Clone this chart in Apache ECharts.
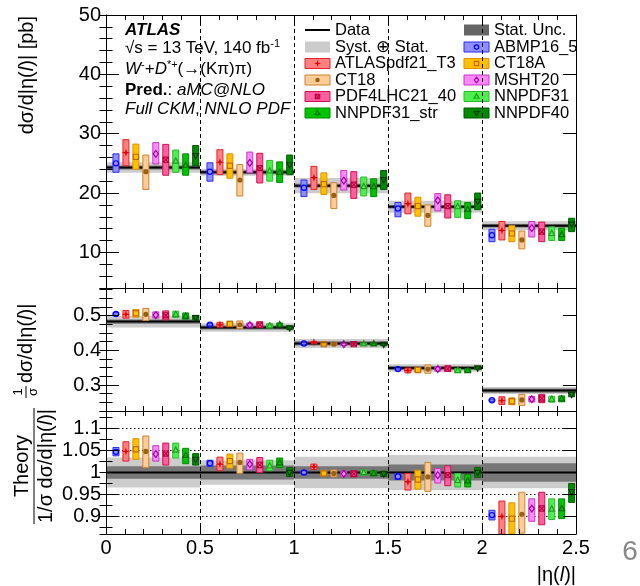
<!DOCTYPE html>
<html>
<head>
<meta charset="utf-8">
<script src="https://cdn.jsdelivr.net/npm/echarts@6/dist/echarts.min.js"></script>
<style>
html, body { margin: 0; padding: 0; background: #fff; }
#chart { width: 640px; height: 586px; }
</style>
</head>
<body>
<div id="chart"></div>
<script>
var FONT = '"Liberation Sans", Arial, Helvetica, sans-serif';

// bins of |eta(l)| and positions of the 9 predictions inside a bin
var EDGES = [0, 0.5, 1, 1.5, 2, 2.5];
var OFFSETS = [0.053, 0.106, 0.159, 0.212, 0.265, 0.318, 0.371, 0.424, 0.477];

var PDF_NAMES = ['ABMP16_5', 'ATLASpdf21_T3', 'CT18A', 'CT18', 'MSHT20', 'PDF4LHC21_40', 'NNPDF31', 'NNPDF31_str', 'NNPDF40'];
var PDF_FILL = ['#8f8fff', '#ff8080', '#ffc000', '#ffcc99', '#ff88ff', '#ff5fa0', '#4cf04c', '#00c400', '#008a00'];
var PDF_LINE = ['#2a2aff', '#e8202a', '#e09000', '#c8842c', '#c832c8', '#d2104a', '#2fb82f', '#008c00', '#005a00'];
var PDF_MARKC = ['#0000ff', '#e00000', '#c86a00', '#9a6010', '#a000a0', '#c00040', '#1e9e1e', '#006e00', '#003c00'];
var PDF_MARK = ['circle', 'star', 'square', 'dot', 'diamond', 'xsquare', 'up', 'up', 'down'];

// measured data: absolute, normalised, ratio panel uncertainties
var DATA_ABS = [24.3, 23.5, 21.25, 17.7, 14.5];
var DATA_ABS_STAT = [0.35, 0.35, 0.3, 0.3, 0.3];
var DATA_ABS_TOT = [0.9, 0.6, 1.3, 1.0, 0.75];
var DATA_NORM = [0.483, 0.466, 0.420, 0.349, 0.284];
var DATA_NORM_STAT = [0.006, 0.006, 0.006, 0.006, 0.006];
var DATA_NORM_TOT = [0.017, 0.012, 0.013, 0.011, 0.010];
var RATIO_STAT = [0.014, 0.016, 0.014, 0.018, 0.021];
var RATIO_TOT = [0.034, 0.028, 0.036, 0.040, 0.036];

// predictions, one row per PDF (same order as PDF_NAMES)
var ABS_C = [
  [25.0, 23.6, 20.9, 17.4, 12.9],
  [26.8, 25.2, 22.6, 18.2, 13.7],
  [26.1, 24.6, 21.5, 17.8, 13.2],
  [23.6, 22.2, 19.6, 16.25, 12.1],
  [26.6, 25.1, 22.1, 18.75, 14.1],
  [25.6, 24.2, 21.4, 17.8, 13.5],
  [25.4, 23.75, 21.1, 17.7, 13.2],
  [24.7, 23.5, 21.1, 17.25, 13.0],
  [26.3, 24.75, 22.25, 18.6, 14.75]
];
var ABS_LO = [
  [23.5, 22.0, 19.4, 16.0, 11.8],
  [24.6, 23.1, 20.6, 16.5, 12.1],
  [24.0, 22.5, 19.75, 16.1, 11.8],
  [20.6, 19.5, 17.4, 14.4, 10.6],
  [24.9, 23.4, 20.5, 17.0, 12.6],
  [23.0, 21.7, 19.1, 15.8, 11.8],
  [23.5, 22.0, 19.5, 15.9, 12.0],
  [23.0, 21.8, 19.4, 15.7, 12.0],
  [24.6, 23.1, 20.6, 17.2, 13.5]
];
var ABS_HI = [
  [26.6, 25.1, 22.2, 18.4, 13.9],
  [29.0, 27.3, 24.5, 20.0, 15.2],
  [28.25, 26.6, 23.4, 19.3, 14.5],
  [26.4, 24.8, 21.75, 18.0, 13.6],
  [28.5, 26.9, 23.8, 19.9, 15.2],
  [28.2, 26.7, 23.6, 19.7, 15.1],
  [27.25, 25.5, 22.7, 18.7, 14.3],
  [26.6, 25.25, 22.4, 18.4, 14.1],
  [28.0, 26.4, 23.8, 20.0, 15.75]
];
var NORM_C = [
  [0.505, 0.474, 0.420, 0.346, 0.256],
  [0.504, 0.474, 0.4235, 0.342, 0.255],
  [0.507, 0.476, 0.418, 0.343, 0.253],
  [0.504, 0.474, 0.418, 0.346, 0.257],
  [0.502, 0.473, 0.418, 0.346, 0.259],
  [0.501, 0.474, 0.418, 0.347, 0.261],
  [0.504, 0.471, 0.419, 0.342, 0.259],
  [0.499, 0.474, 0.419, 0.342, 0.260],
  [0.494, 0.465, 0.417, 0.349, 0.273]
];
var NORM_LO = [
  [0.501, 0.471, 0.418, 0.343, 0.253],
  [0.493, 0.467, 0.421, 0.335, 0.244],
  [0.496, 0.469, 0.415, 0.336, 0.243],
  [0.486, 0.463, 0.414, 0.334, 0.241],
  [0.493, 0.467, 0.416, 0.340, 0.251],
  [0.488, 0.466, 0.415, 0.339, 0.249],
  [0.495, 0.465, 0.417, 0.336, 0.2505],
  [0.490, 0.469, 0.417, 0.337, 0.2515],
  [0.487, 0.460, 0.415, 0.345, 0.266]
];
var NORM_HI = [
  [0.509, 0.477, 0.422, 0.349, 0.259],
  [0.515, 0.481, 0.426, 0.349, 0.266],
  [0.518, 0.484, 0.421, 0.351, 0.263],
  [0.521, 0.485, 0.422, 0.358, 0.273],
  [0.511, 0.479, 0.420, 0.352, 0.267],
  [0.514, 0.482, 0.421, 0.355, 0.273],
  [0.513, 0.477, 0.421, 0.348, 0.2675],
  [0.508, 0.479, 0.421, 0.347, 0.2685],
  [0.501, 0.470, 0.419, 0.353, 0.280]
];
var RATIO_C = [
  [1.047, 1.021, 1.000, 0.991, 0.903],
  [1.048, 1.019, 1.013, 0.979, 0.900],
  [1.053, 1.026, 0.998, 0.984, 0.895],
  [1.048, 1.023, 0.998, 0.990, 0.905],
  [1.042, 1.019, 0.997, 0.994, 0.918],
  [1.043, 1.017, 0.997, 0.994, 0.918],
  [1.051, 1.015, 1.000, 0.982, 0.917],
  [1.039, 1.022, 0.998, 0.981, 0.918],
  [1.030, 1.000, 0.997, 1.000, 0.956]
];
var RATIO_LO = [
  [1.038, 1.014, 0.996, 0.984, 0.892],
  [1.026, 1.004, 1.007, 0.960, 0.850],
  [1.030, 1.010, 0.992, 0.962, 0.850],
  [1.011, 0.998, 0.990, 0.957, 0.862],
  [1.026, 1.006, 0.991, 0.976, 0.889],
  [1.017, 1.000, 0.990, 0.970, 0.881],
  [1.033, 1.004, 0.994, 0.967, 0.893],
  [1.020, 1.011, 0.992, 0.967, 0.895],
  [1.017, 0.991, 0.991, 0.989, 0.932]
];
var RATIO_HI = [
  [1.057, 1.028, 1.004, 0.998, 0.914],
  [1.070, 1.035, 1.019, 0.998, 0.935],
  [1.077, 1.042, 1.005, 1.005, 0.931],
  [1.083, 1.044, 1.006, 1.023, 0.955],
  [1.061, 1.030, 1.003, 1.009, 0.940],
  [1.067, 1.034, 1.004, 1.015, 0.955],
  [1.067, 1.028, 1.006, 0.998, 0.940],
  [1.055, 1.033, 1.004, 0.995, 0.940],
  [1.043, 1.011, 1.003, 1.011, 0.975]
];

var Y_RANGE = [[4, 50], [0.225, 0.58], [0.86, 1.14]];
var Y_MAJOR = [10, 0.1, 0.05];
var Y_MINOR = [2, 0.025, 0.025];
var GRIDS = [
  { left: 106, right: 64, top: 15, height: 273 },
  { left: 106, right: 64, top: 288, height: 123 },
  { left: 106, right: 64, top: 411, height: 123 }
];
var LIGHT = '#cccccc', DARK = '#777777';

// ---- marker shapes (used in plot and legend)
function marker(kind, cx, cy, r, color) {
  var open = { fill: 'none', stroke: color, lineWidth: 1.2 };
  if (kind === 'circle') return { type: 'circle', shape: { cx: cx, cy: cy, r: r }, style: open };
  if (kind === 'dot') return { type: 'circle', shape: { cx: cx, cy: cy, r: r }, style: { fill: color } };
  if (kind === 'square') return { type: 'rect', shape: { x: cx - r, y: cy - r, width: 2 * r, height: 2 * r }, style: open };
  if (kind === 'xsquare') return { type: 'group', children: [
    { type: 'rect', shape: { x: cx - r, y: cy - r, width: 2 * r, height: 2 * r }, style: open },
    { type: 'line', shape: { x1: cx - r, y1: cy - r, x2: cx + r, y2: cy + r }, style: open },
    { type: 'line', shape: { x1: cx + r, y1: cy - r, x2: cx - r, y2: cy + r }, style: open }
  ] };
  if (kind === 'diamond') return { type: 'polygon', shape: { points: [[cx, cy - 1.3 * r], [cx + r, cy], [cx, cy + 1.3 * r], [cx - r, cy]] }, style: open };
  if (kind === 'up') return { type: 'polygon', shape: { points: [[cx, cy - 1.2 * r], [cx + 1.1 * r, cy + 0.8 * r], [cx - 1.1 * r, cy + 0.8 * r]] }, style: open };
  if (kind === 'down') return { type: 'polygon', shape: { points: [[cx, cy + 1.2 * r], [cx + 1.1 * r, cy - 0.8 * r], [cx - 1.1 * r, cy - 0.8 * r]] }, style: open };
  var pts = [];
  for (var i = 0; i < 8; i++) {
    var a = i * Math.PI / 4 - Math.PI / 2;
    var rr = i % 2 === 0 ? 1.6 * r : 0.5 * r;
    pts.push([cx + rr * Math.cos(a), cy + rr * Math.sin(a)]);
  }
  return { type: 'polygon', shape: { points: pts }, style: { fill: color } };
}

function clampY(y, cs) { return Math.min(Math.max(y, cs.y), cs.y + cs.height); }

function bandRender(color) {
  return function (params, api) {
    var cs = params.coordSys;
    var p1 = api.coord([api.value(0), api.value(3)]);
    var p2 = api.coord([api.value(1), api.value(2)]);
    var y1 = clampY(p1[1], cs), y2 = clampY(p2[1], cs);
    return { type: 'rect', shape: { x: p1[0], y: y1, width: p2[0] - p1[0], height: y2 - y1 }, style: { fill: color } };
  };
}
function lineRender(params, api) {
  var a = api.coord([api.value(0), api.value(2)]);
  var b = api.coord([api.value(1), api.value(2)]);
  return { type: 'line', shape: { x1: a[0], y1: a[1], x2: b[0], y2: b[1] }, style: { stroke: '#000', lineWidth: 2 } };
}
function theoryRender(k) {
  return function (params, api) {
    var cs = params.coordSys;
    var pc = api.coord([api.value(0), api.value(1)]);
    var yl = clampY(api.coord([api.value(0), api.value(2)])[1], cs);
    var yh = clampY(api.coord([api.value(0), api.value(3)])[1], cs);
    var w = 6;
    return { type: 'group', children: [
      { type: 'rect', shape: { x: pc[0] - w / 2, y: yh, width: w, height: Math.max(yl - yh, 2) },
        style: { fill: PDF_FILL[k], stroke: PDF_LINE[k], lineWidth: 1 } },
      marker(PDF_MARK[k], pc[0], pc[1], 2.6, PDF_MARKC[k])
    ] };
  };
}

function majorLabel(step) {
  return function (v) {
    var n = Math.round(v / step);
    if (Math.abs(v - n * step) > step * 1e-3) return '';
    return String(+v.toFixed(3));
  };
}

var xAxis = [], yAxis = [], series = [], grid = [];

GRIDS.forEach(function (gd, g) {
  grid.push({ left: gd.left, right: gd.right, top: gd.top, height: gd.height, show: false, outerBoundsMode: 'none', containLabel: false });
  // x axes: bottom (labels on last panel, dashed bin edges) and top (ticks only)
  xAxis.push({
    type: 'value', gridIndex: g, min: 0, max: 2.5, interval: 0.5, position: 'bottom', z: 5,
    axisLine: { show: true, onZero: false, lineStyle: { color: '#000', width: 1 } },
    axisTick: { show: true, inside: true, length: 10, lineStyle: { color: '#000' } },
    minorTick: { show: true, splitNumber: 5, length: 5, lineStyle: { color: '#000' } },
    axisLabel: { show: g === 2, margin: 4, color: '#000', fontSize: 20, fontFamily: FONT },
    splitLine: { show: true, lineStyle: { color: '#000', width: 1, type: [4, 3] } }
  });
  xAxis.push({
    type: 'value', gridIndex: g, min: 0, max: 2.5, interval: 0.5, position: 'top', z: 5,
    axisLine: { show: true, onZero: false, lineStyle: { color: '#000', width: 1 } },
    axisTick: { show: true, inside: true, length: 10, lineStyle: { color: '#000' } },
    minorTick: { show: true, splitNumber: 5, length: 5, lineStyle: { color: '#000' } },
    axisLabel: { show: false }, splitLine: { show: false }
  });
  var r = Y_RANGE[g];
  var mainIndex = yAxis.length;
  ['left', 'right'].forEach(function (side) {
    yAxis.push({
      type: 'value', gridIndex: g, min: r[0], max: r[1], minInterval: Y_MAJOR[g], maxInterval: Y_MAJOR[g],
      position: side, z: 5,
      axisLine: { show: true, onZero: false, lineStyle: { color: '#000', width: 1 } },
      axisTick: { show: true, inside: true, length: 13, lineStyle: { color: '#000' } },
      axisLabel: side === 'left' ? { show: true, margin: 5, color: '#000', fontSize: 20, fontFamily: FONT, formatter: majorLabel(Y_MAJOR[g]) } : { show: false },
      splitLine: { show: false }
    });
    yAxis.push({
      type: 'value', gridIndex: g, min: r[0], max: r[1], minInterval: Y_MINOR[g], maxInterval: Y_MINOR[g],
      position: side, z: 5,
      axisLine: { show: false },
      axisTick: { show: true, inside: true, length: 6.5, lineStyle: { color: '#000' } },
      axisLabel: { show: false }, splitLine: { show: false }
    });
  });
  if (g === 2) {
    // dotted reference lines of the ratio panel, below the marks
    yAxis.push({
      type: 'value', gridIndex: g, min: r[0], max: r[1], minInterval: 0.05, maxInterval: 0.05, z: 1,
      axisLine: { show: false }, axisTick: { show: false }, axisLabel: { show: false },
      splitLine: { show: true, lineStyle: { color: '#000', width: 1, type: [1.5, 2.5] } }
    });
  }

  var dv, ds, dt, tc, tl, th;
  if (g === 0) { dv = DATA_ABS; ds = DATA_ABS_STAT; dt = DATA_ABS_TOT; tc = ABS_C; tl = ABS_LO; th = ABS_HI; }
  else if (g === 1) { dv = DATA_NORM; ds = DATA_NORM_STAT; dt = DATA_NORM_TOT; tc = NORM_C; tl = NORM_LO; th = NORM_HI; }
  else { dv = DATA_ABS.map(function () { return 1; }); ds = RATIO_STAT; dt = RATIO_TOT; tc = RATIO_C; tl = RATIO_LO; th = RATIO_HI; }

  var base = { type: 'custom', xAxisIndex: 2 * g, yAxisIndex: mainIndex, silent: true, animation: false };
  series.push(Object.assign({}, base, { name: 'Syst. ⊕ Stat.', renderItem: bandRender(LIGHT),
    data: dv.map(function (v, i) { return [EDGES[i], EDGES[i + 1], v - dt[i], v + dt[i]]; }) }));
  series.push(Object.assign({}, base, { name: 'Stat. Unc.', renderItem: bandRender(DARK),
    data: dv.map(function (v, i) { return [EDGES[i], EDGES[i + 1], v - ds[i], v + ds[i]]; }) }));
  series.push(Object.assign({}, base, { name: 'Data', renderItem: lineRender,
    data: dv.map(function (v, i) { return [EDGES[i], EDGES[i + 1], v]; }) }));
  PDF_NAMES.forEach(function (name, k) {
    series.push(Object.assign({}, base, { name: name, renderItem: theoryRender(k),
      data: tc[k].map(function (c, i) { return [EDGES[i] + OFFSETS[k], c, tl[k][i], th[k][i]]; }) }));
  });
});

// ---- text and legend
var graphics = [];
var RICH = {
  b: { fontSize: 17, fontWeight: 'bold', fontStyle: 'italic', fontFamily: FONT, lineHeight: 20 },
  bold: { fontSize: 17, fontWeight: 'bold', fontFamily: FONT, lineHeight: 20 },
  it: { fontSize: 17, fontStyle: 'italic', fontFamily: FONT, lineHeight: 20 },
  sup: { fontSize: 11, fontFamily: FONT, verticalAlign: 'top', lineHeight: 20 },
  i: { fontStyle: 'italic', fontFamily: FONT }
};
var INFO_LINES = [
  '{b|ATLAS}',
  '√s = 13 TeV, 140 fb{sup|-1}',
  '{it|W}{sup|-}+{it|D}{sup|*+}(→(Kπ)π)',
  '{bold|Pred.}: {it|aMC@NLO}',
  '{it|Full CKM}, {it|NNLO PDF}'
];
var INFO_Y = [30, 48, 69, 90, 109];
INFO_LINES.forEach(function (t, i) {
  graphics.push({ type: 'text', x: 125, y: INFO_Y[i], style: { text: t, rich: RICH, fontSize: 17, fontFamily: FONT, fill: '#000', verticalAlign: 'middle', lineHeight: 20 } });
});

var LEG_Y = [30, 47, 63.5, 80, 96.5, 113];
var LEG_X = [305, 464];
var LEG_COLS = [['Data', 'Syst', 1, 3, 5, 7], ['Stat', 0, 2, 4, 6, 8]];
LEG_COLS.forEach(function (col, c) {
  col.forEach(function (e, r) {
    var x = LEG_X[c], y = LEG_Y[r], label;
    if (e === 'Data') {
      graphics.push({ type: 'line', shape: { x1: x, y1: y, x2: x + 25, y2: y }, style: { stroke: '#000', lineWidth: 2 } });
      label = 'Data';
    } else if (e === 'Syst' || e === 'Stat') {
      graphics.push({ type: 'rect', shape: { x: x, y: y - 5.5, width: 25, height: 11 }, style: { fill: e === 'Syst' ? LIGHT : '#666666' } });
      label = e === 'Syst' ? 'Syst. ⊕ Stat.' : 'Stat. Unc.';
    } else {
      graphics.push({ type: 'rect', shape: { x: x, y: y - 5, width: 25, height: 10 }, style: { fill: PDF_FILL[e], stroke: PDF_LINE[e], lineWidth: 1 } });
      graphics.push(marker(PDF_MARK[e], x + 12.5, y, 2.2, PDF_MARKC[e]));
      label = PDF_NAMES[e];
    }
    graphics.push({ type: 'text', x: x + 30, y: y, style: { text: label, fontSize: 16.5, fontFamily: FONT, fill: '#000', verticalAlign: 'middle' } });
  });
});

// axis titles
graphics.push({ type: 'text', x: 27, y: 16, rotation: Math.PI / 2,
  style: { text: 'dσ/d|η({i|l})| [pb]', rich: { i: { fontStyle: 'italic', fontSize: 20, fontFamily: FONT } }, fontSize: 20, fontFamily: FONT, fill: '#000', align: 'right', verticalAlign: 'middle' } });
graphics.push({ type: 'group', x: 26, y: 398, rotation: Math.PI / 2, children: [
  { type: 'text', x: 6, y: -1.5, style: { text: '1', fontSize: 13, fontFamily: FONT, fill: '#000', align: 'center', verticalAlign: 'bottom' } },
  { type: 'line', shape: { x1: 0, y1: 0, x2: 12, y2: 0 }, style: { stroke: '#000', lineWidth: 1 } },
  { type: 'text', x: 6, y: 1, style: { text: 'σ', fontSize: 13, fontFamily: FONT, fill: '#000', align: 'center', verticalAlign: 'top' } },
  { type: 'text', x: 15, y: 0, style: { text: 'dσ/d|η({i|l})|', rich: { i: { fontStyle: 'italic', fontSize: 20, fontFamily: FONT } }, fontSize: 20, fontFamily: FONT, fill: '#000', align: 'left', verticalAlign: 'middle' } }
] });
graphics.push({ type: 'group', x: 34, y: 466, rotation: Math.PI / 2, children: [
  { type: 'text', x: 0, y: -2, style: { text: 'Theory', fontSize: 20, fontFamily: FONT, fill: '#000', align: 'center', verticalAlign: 'bottom' } },
  { type: 'line', shape: { x1: -58, y1: 0, x2: 58, y2: 0 }, style: { stroke: '#000', lineWidth: 1 } },
  { type: 'text', x: 0, y: 2, style: { text: '1/σ dσ/d|η({i|l})|', rich: { i: { fontStyle: 'italic', fontSize: 20, fontFamily: FONT } }, fontSize: 20, fontFamily: FONT, fill: '#000', align: 'center', verticalAlign: 'top' } }
] });
graphics.push({ type: 'text', x: 576, y: 575,
  style: { text: '|η({i|l})|', rich: { i: { fontStyle: 'italic', fontSize: 20, fontFamily: FONT } }, fontSize: 20, fontFamily: FONT, fill: '#000', align: 'right', verticalAlign: 'middle' } });
graphics.push({ type: 'text', x: 630, y: 552, style: { text: '6', fontSize: 28, fontFamily: FONT, fill: '#888888', align: 'center', verticalAlign: 'middle' } });

var chart = echarts.init(document.getElementById('chart'));
chart.setOption({
  animation: false,
  backgroundColor: '#ffffff',
  textStyle: { fontFamily: FONT },
  grid: grid,
  xAxis: xAxis,
  yAxis: yAxis,
  series: series,
  graphic: { elements: graphics }
});
</script>
</body>
</html>
